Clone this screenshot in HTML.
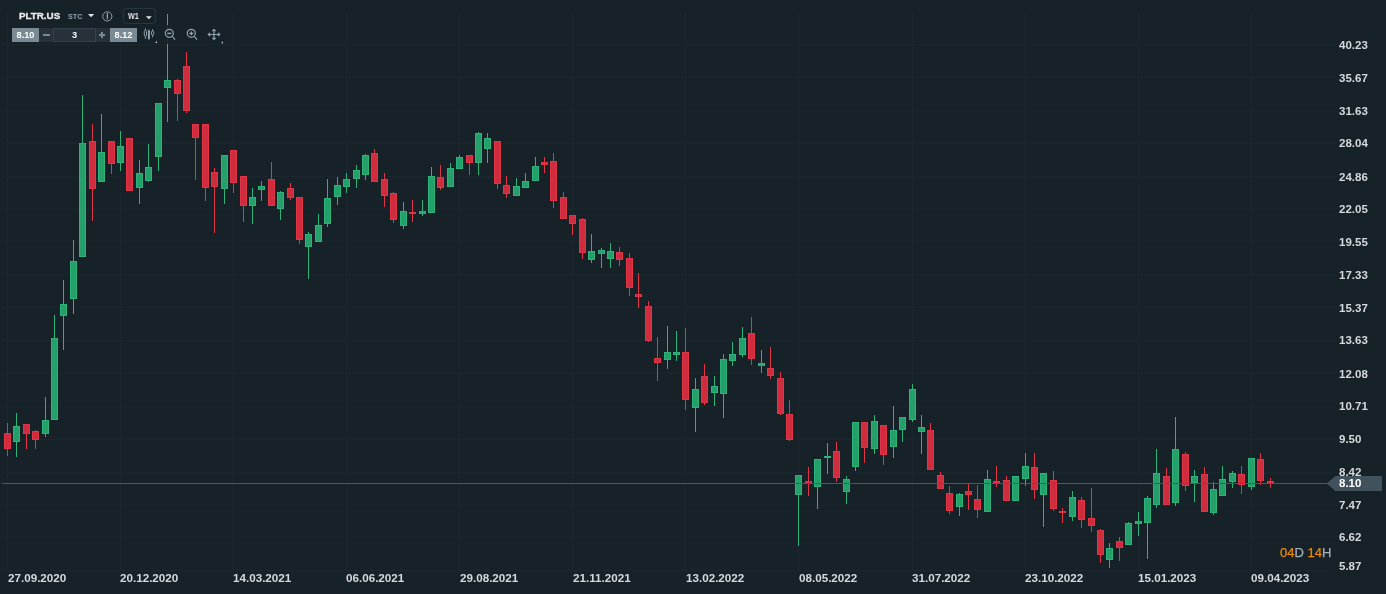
<!DOCTYPE html>
<html><head><meta charset="utf-8"><title>PLTR.US W1</title>
<style>
html,body{margin:0;padding:0;background:#172128;}
body{width:1386px;height:594px;position:relative;overflow:hidden;font-family:"Liberation Sans",sans-serif;}
svg.c{position:absolute;left:0;top:0;}
.pl{position:absolute;left:1339px;height:14px;line-height:14px;font-size:11.5px;font-weight:bold;color:#d6dadd;white-space:nowrap;}
.dl{position:absolute;top:571px;height:14px;line-height:14px;font-size:11.65px;font-weight:bold;color:#d6dadd;white-space:nowrap;}
.t,.pl,.dl{will-change:transform;}
.t{position:absolute;white-space:nowrap;font-weight:bold;}
.box{position:absolute;box-sizing:border-box;}
</style></head><body>
<svg class="c" width="1386" height="594" viewBox="0 0 1386 594" shape-rendering="crispEdges">
<rect x="2" y="44" width="1335" height="1" fill="#1b262e"/>
<rect x="2" y="77" width="1335" height="1" fill="#1b262e"/>
<rect x="2" y="110" width="1335" height="1" fill="#1b262e"/>
<rect x="2" y="143" width="1335" height="1" fill="#1b262e"/>
<rect x="2" y="176" width="1335" height="1" fill="#1b262e"/>
<rect x="2" y="209" width="1335" height="1" fill="#1b262e"/>
<rect x="2" y="241" width="1335" height="1" fill="#1b262e"/>
<rect x="2" y="274" width="1335" height="1" fill="#1b262e"/>
<rect x="2" y="307" width="1335" height="1" fill="#1b262e"/>
<rect x="2" y="340" width="1335" height="1" fill="#1b262e"/>
<rect x="2" y="373" width="1335" height="1" fill="#1b262e"/>
<rect x="2" y="406" width="1335" height="1" fill="#1b262e"/>
<rect x="2" y="439" width="1335" height="1" fill="#1b262e"/>
<rect x="2" y="472" width="1335" height="1" fill="#1b262e"/>
<rect x="2" y="505" width="1335" height="1" fill="#1b262e"/>
<rect x="2" y="537" width="1335" height="1" fill="#1b262e"/>
<rect x="2" y="570" width="1330" height="1" fill="#1b262e"/>
<rect x="7" y="12" width="1" height="559" fill="#1b262e"/>
<rect x="120" y="12" width="1" height="559" fill="#1b262e"/>
<rect x="233" y="12" width="1" height="559" fill="#1b262e"/>
<rect x="346" y="12" width="1" height="559" fill="#1b262e"/>
<rect x="459" y="12" width="1" height="559" fill="#1b262e"/>
<rect x="572" y="12" width="1" height="559" fill="#1b262e"/>
<rect x="685" y="12" width="1" height="559" fill="#1b262e"/>
<rect x="798" y="12" width="1" height="559" fill="#1b262e"/>
<rect x="912" y="12" width="1" height="559" fill="#1b262e"/>
<rect x="1025" y="12" width="1" height="559" fill="#1b262e"/>
<rect x="1138" y="12" width="1" height="559" fill="#1b262e"/>
<rect x="1251" y="12" width="1" height="559" fill="#1b262e"/>
<rect x="7" y="423" width="1" height="33" fill="#e03546"/>
<rect x="4" y="433" width="7" height="16" fill="#e03546"/>
<rect x="5" y="434" width="5" height="14" fill="#cf2d3d"/>
<rect x="16" y="413" width="1" height="44" fill="#2bb379"/>
<rect x="13" y="426" width="7" height="16" fill="#2bb379"/>
<rect x="14" y="427" width="5" height="14" fill="#26a06b"/>
<rect x="26" y="424" width="1" height="25" fill="#e03546"/>
<rect x="23" y="424" width="7" height="10" fill="#e03546"/>
<rect x="24" y="425" width="5" height="8" fill="#cf2d3d"/>
<rect x="35" y="430" width="1" height="19" fill="#e03546"/>
<rect x="32" y="431" width="7" height="9" fill="#e03546"/>
<rect x="33" y="432" width="5" height="7" fill="#cf2d3d"/>
<rect x="45" y="397" width="1" height="40" fill="#2bb379"/>
<rect x="42" y="420" width="7" height="14" fill="#2bb379"/>
<rect x="43" y="421" width="5" height="12" fill="#26a06b"/>
<rect x="54" y="315" width="1" height="105" fill="#2bb379"/>
<rect x="51" y="338" width="7" height="82" fill="#2bb379"/>
<rect x="52" y="339" width="5" height="80" fill="#26a06b"/>
<rect x="63" y="280" width="1" height="70" fill="#2bb379"/>
<rect x="60" y="304" width="7" height="12" fill="#2bb379"/>
<rect x="61" y="305" width="5" height="10" fill="#26a06b"/>
<rect x="73" y="240" width="1" height="74" fill="#2bb379"/>
<rect x="70" y="261" width="7" height="38" fill="#2bb379"/>
<rect x="71" y="262" width="5" height="36" fill="#26a06b"/>
<rect x="82" y="95" width="1" height="162" fill="#2bb379"/>
<rect x="79" y="143" width="7" height="114" fill="#2bb379"/>
<rect x="80" y="144" width="5" height="112" fill="#26a06b"/>
<rect x="92" y="124" width="1" height="97" fill="#e03546"/>
<rect x="89" y="141" width="7" height="48" fill="#e03546"/>
<rect x="90" y="142" width="5" height="46" fill="#cf2d3d"/>
<rect x="101" y="114" width="1" height="68" fill="#2bb379"/>
<rect x="98" y="152" width="7" height="30" fill="#2bb379"/>
<rect x="99" y="153" width="5" height="28" fill="#26a06b"/>
<rect x="111" y="141" width="1" height="33" fill="#e03546"/>
<rect x="108" y="141" width="7" height="23" fill="#e03546"/>
<rect x="109" y="142" width="5" height="21" fill="#cf2d3d"/>
<rect x="120" y="131" width="1" height="40" fill="#2bb379"/>
<rect x="117" y="146" width="7" height="17" fill="#2bb379"/>
<rect x="118" y="147" width="5" height="15" fill="#26a06b"/>
<rect x="129" y="138" width="1" height="53" fill="#e03546"/>
<rect x="126" y="138" width="7" height="53" fill="#e03546"/>
<rect x="127" y="139" width="5" height="51" fill="#cf2d3d"/>
<rect x="139" y="160" width="1" height="44" fill="#2bb379"/>
<rect x="136" y="173" width="7" height="15" fill="#2bb379"/>
<rect x="137" y="174" width="5" height="13" fill="#26a06b"/>
<rect x="148" y="144" width="1" height="38" fill="#2bb379"/>
<rect x="145" y="167" width="7" height="14" fill="#2bb379"/>
<rect x="146" y="168" width="5" height="12" fill="#26a06b"/>
<rect x="158" y="103" width="1" height="68" fill="#2bb379"/>
<rect x="155" y="103" width="7" height="54" fill="#2bb379"/>
<rect x="156" y="104" width="5" height="52" fill="#26a06b"/>
<rect x="167" y="14" width="1" height="108" fill="#2bb379"/>
<rect x="164" y="80" width="7" height="8" fill="#2bb379"/>
<rect x="165" y="81" width="5" height="6" fill="#26a06b"/>
<rect x="177" y="79" width="1" height="42" fill="#e03546"/>
<rect x="174" y="80" width="7" height="14" fill="#e03546"/>
<rect x="175" y="81" width="5" height="12" fill="#cf2d3d"/>
<rect x="186" y="52" width="1" height="61" fill="#e03546"/>
<rect x="183" y="66" width="7" height="45" fill="#e03546"/>
<rect x="184" y="67" width="5" height="43" fill="#cf2d3d"/>
<rect x="195" y="124" width="1" height="56" fill="#e03546"/>
<rect x="192" y="124" width="7" height="14" fill="#e03546"/>
<rect x="193" y="125" width="5" height="12" fill="#cf2d3d"/>
<rect x="205" y="124" width="1" height="77" fill="#e03546"/>
<rect x="202" y="124" width="7" height="64" fill="#e03546"/>
<rect x="203" y="125" width="5" height="62" fill="#cf2d3d"/>
<rect x="214" y="168" width="1" height="65" fill="#e03546"/>
<rect x="211" y="172" width="7" height="15" fill="#e03546"/>
<rect x="212" y="173" width="5" height="13" fill="#cf2d3d"/>
<rect x="224" y="155" width="1" height="49" fill="#2bb379"/>
<rect x="221" y="155" width="7" height="34" fill="#2bb379"/>
<rect x="222" y="156" width="5" height="32" fill="#26a06b"/>
<rect x="233" y="150" width="1" height="43" fill="#e03546"/>
<rect x="230" y="150" width="7" height="33" fill="#e03546"/>
<rect x="231" y="151" width="5" height="31" fill="#cf2d3d"/>
<rect x="243" y="176" width="1" height="46" fill="#e03546"/>
<rect x="240" y="176" width="7" height="30" fill="#e03546"/>
<rect x="241" y="177" width="5" height="28" fill="#cf2d3d"/>
<rect x="252" y="188" width="1" height="36" fill="#2bb379"/>
<rect x="249" y="197" width="7" height="9" fill="#2bb379"/>
<rect x="250" y="198" width="5" height="7" fill="#26a06b"/>
<rect x="261" y="181" width="1" height="20" fill="#2bb379"/>
<rect x="258" y="186" width="7" height="4" fill="#2bb379"/>
<rect x="259" y="187" width="5" height="2" fill="#26a06b"/>
<rect x="271" y="162" width="1" height="44" fill="#e03546"/>
<rect x="268" y="179" width="7" height="27" fill="#e03546"/>
<rect x="269" y="180" width="5" height="25" fill="#cf2d3d"/>
<rect x="280" y="191" width="1" height="29" fill="#2bb379"/>
<rect x="277" y="192" width="7" height="17" fill="#2bb379"/>
<rect x="278" y="193" width="5" height="15" fill="#26a06b"/>
<rect x="290" y="183" width="1" height="17" fill="#e03546"/>
<rect x="287" y="188" width="7" height="10" fill="#e03546"/>
<rect x="288" y="189" width="5" height="8" fill="#cf2d3d"/>
<rect x="299" y="197" width="1" height="47" fill="#e03546"/>
<rect x="296" y="197" width="7" height="43" fill="#e03546"/>
<rect x="297" y="198" width="5" height="41" fill="#cf2d3d"/>
<rect x="308" y="232" width="1" height="47" fill="#2bb379"/>
<rect x="305" y="234" width="7" height="13" fill="#2bb379"/>
<rect x="306" y="235" width="5" height="11" fill="#26a06b"/>
<rect x="318" y="214" width="1" height="28" fill="#2bb379"/>
<rect x="315" y="225" width="7" height="17" fill="#2bb379"/>
<rect x="316" y="226" width="5" height="15" fill="#26a06b"/>
<rect x="327" y="179" width="1" height="48" fill="#2bb379"/>
<rect x="324" y="198" width="7" height="26" fill="#2bb379"/>
<rect x="325" y="199" width="5" height="24" fill="#26a06b"/>
<rect x="337" y="177" width="1" height="28" fill="#2bb379"/>
<rect x="334" y="185" width="7" height="12" fill="#2bb379"/>
<rect x="335" y="186" width="5" height="10" fill="#26a06b"/>
<rect x="346" y="173" width="1" height="20" fill="#2bb379"/>
<rect x="343" y="179" width="7" height="8" fill="#2bb379"/>
<rect x="344" y="180" width="5" height="6" fill="#26a06b"/>
<rect x="356" y="165" width="1" height="23" fill="#2bb379"/>
<rect x="353" y="170" width="7" height="9" fill="#2bb379"/>
<rect x="354" y="171" width="5" height="7" fill="#26a06b"/>
<rect x="365" y="154" width="1" height="26" fill="#2bb379"/>
<rect x="362" y="155" width="7" height="20" fill="#2bb379"/>
<rect x="363" y="156" width="5" height="18" fill="#26a06b"/>
<rect x="374" y="149" width="1" height="33" fill="#e03546"/>
<rect x="371" y="153" width="7" height="29" fill="#e03546"/>
<rect x="372" y="154" width="5" height="27" fill="#cf2d3d"/>
<rect x="384" y="173" width="1" height="34" fill="#e03546"/>
<rect x="381" y="179" width="7" height="17" fill="#e03546"/>
<rect x="382" y="180" width="5" height="15" fill="#cf2d3d"/>
<rect x="393" y="192" width="1" height="31" fill="#e03546"/>
<rect x="390" y="193" width="7" height="27" fill="#e03546"/>
<rect x="391" y="194" width="5" height="25" fill="#cf2d3d"/>
<rect x="403" y="202" width="1" height="27" fill="#2bb379"/>
<rect x="400" y="211" width="7" height="15" fill="#2bb379"/>
<rect x="401" y="212" width="5" height="13" fill="#26a06b"/>
<rect x="412" y="200" width="1" height="22" fill="#e03546"/>
<rect x="409" y="212" width="7" height="2" fill="#e03546"/>
<rect x="422" y="200" width="1" height="16" fill="#2bb379"/>
<rect x="419" y="211" width="7" height="3" fill="#2bb379"/>
<rect x="420" y="212" width="5" height="1" fill="#26a06b"/>
<rect x="431" y="167" width="1" height="46" fill="#2bb379"/>
<rect x="428" y="176" width="7" height="37" fill="#2bb379"/>
<rect x="429" y="177" width="5" height="35" fill="#26a06b"/>
<rect x="440" y="165" width="1" height="25" fill="#e03546"/>
<rect x="437" y="177" width="7" height="11" fill="#e03546"/>
<rect x="438" y="178" width="5" height="9" fill="#cf2d3d"/>
<rect x="450" y="163" width="1" height="24" fill="#2bb379"/>
<rect x="447" y="168" width="7" height="19" fill="#2bb379"/>
<rect x="448" y="169" width="5" height="17" fill="#26a06b"/>
<rect x="459" y="155" width="1" height="14" fill="#2bb379"/>
<rect x="456" y="157" width="7" height="12" fill="#2bb379"/>
<rect x="457" y="158" width="5" height="10" fill="#26a06b"/>
<rect x="469" y="155" width="1" height="20" fill="#e03546"/>
<rect x="466" y="155" width="7" height="8" fill="#e03546"/>
<rect x="467" y="156" width="5" height="6" fill="#cf2d3d"/>
<rect x="478" y="132" width="1" height="43" fill="#2bb379"/>
<rect x="475" y="133" width="7" height="30" fill="#2bb379"/>
<rect x="476" y="134" width="5" height="28" fill="#26a06b"/>
<rect x="487" y="133" width="1" height="30" fill="#2bb379"/>
<rect x="484" y="138" width="7" height="11" fill="#2bb379"/>
<rect x="485" y="139" width="5" height="9" fill="#26a06b"/>
<rect x="497" y="141" width="1" height="48" fill="#e03546"/>
<rect x="494" y="141" width="7" height="43" fill="#e03546"/>
<rect x="495" y="142" width="5" height="41" fill="#cf2d3d"/>
<rect x="506" y="176" width="1" height="22" fill="#e03546"/>
<rect x="503" y="185" width="7" height="9" fill="#e03546"/>
<rect x="504" y="186" width="5" height="7" fill="#cf2d3d"/>
<rect x="516" y="178" width="1" height="18" fill="#2bb379"/>
<rect x="513" y="186" width="7" height="10" fill="#2bb379"/>
<rect x="514" y="187" width="5" height="8" fill="#26a06b"/>
<rect x="525" y="173" width="1" height="15" fill="#2bb379"/>
<rect x="522" y="181" width="7" height="7" fill="#2bb379"/>
<rect x="523" y="182" width="5" height="5" fill="#26a06b"/>
<rect x="535" y="157" width="1" height="24" fill="#2bb379"/>
<rect x="532" y="166" width="7" height="15" fill="#2bb379"/>
<rect x="533" y="167" width="5" height="13" fill="#26a06b"/>
<rect x="544" y="157" width="1" height="16" fill="#e03546"/>
<rect x="541" y="162" width="7" height="3" fill="#e03546"/>
<rect x="542" y="163" width="5" height="1" fill="#cf2d3d"/>
<rect x="553" y="153" width="1" height="55" fill="#e03546"/>
<rect x="550" y="161" width="7" height="40" fill="#e03546"/>
<rect x="551" y="162" width="5" height="38" fill="#cf2d3d"/>
<rect x="563" y="192" width="1" height="27" fill="#e03546"/>
<rect x="560" y="197" width="7" height="22" fill="#e03546"/>
<rect x="561" y="198" width="5" height="20" fill="#cf2d3d"/>
<rect x="572" y="215" width="1" height="20" fill="#e03546"/>
<rect x="569" y="215" width="7" height="9" fill="#e03546"/>
<rect x="570" y="216" width="5" height="7" fill="#cf2d3d"/>
<rect x="582" y="218" width="1" height="41" fill="#e03546"/>
<rect x="579" y="219" width="7" height="34" fill="#e03546"/>
<rect x="580" y="220" width="5" height="32" fill="#cf2d3d"/>
<rect x="591" y="234" width="1" height="29" fill="#2bb379"/>
<rect x="588" y="251" width="7" height="9" fill="#2bb379"/>
<rect x="589" y="252" width="5" height="7" fill="#26a06b"/>
<rect x="601" y="248" width="1" height="20" fill="#2bb379"/>
<rect x="598" y="250" width="7" height="4" fill="#2bb379"/>
<rect x="599" y="251" width="5" height="2" fill="#26a06b"/>
<rect x="610" y="243" width="1" height="25" fill="#2bb379"/>
<rect x="607" y="251" width="7" height="8" fill="#2bb379"/>
<rect x="608" y="252" width="5" height="6" fill="#26a06b"/>
<rect x="619" y="247" width="1" height="19" fill="#e03546"/>
<rect x="616" y="252" width="7" height="8" fill="#e03546"/>
<rect x="617" y="253" width="5" height="6" fill="#cf2d3d"/>
<rect x="629" y="253" width="1" height="43" fill="#e03546"/>
<rect x="626" y="258" width="7" height="30" fill="#e03546"/>
<rect x="627" y="259" width="5" height="28" fill="#cf2d3d"/>
<rect x="638" y="273" width="1" height="35" fill="#e03546"/>
<rect x="635" y="294" width="7" height="3" fill="#e03546"/>
<rect x="636" y="295" width="5" height="1" fill="#cf2d3d"/>
<rect x="648" y="301" width="1" height="41" fill="#e03546"/>
<rect x="645" y="306" width="7" height="35" fill="#e03546"/>
<rect x="646" y="307" width="5" height="33" fill="#cf2d3d"/>
<rect x="657" y="337" width="1" height="44" fill="#e03546"/>
<rect x="654" y="358" width="7" height="5" fill="#e03546"/>
<rect x="655" y="359" width="5" height="3" fill="#cf2d3d"/>
<rect x="667" y="326" width="1" height="43" fill="#2bb379"/>
<rect x="664" y="352" width="7" height="8" fill="#2bb379"/>
<rect x="665" y="353" width="5" height="6" fill="#26a06b"/>
<rect x="676" y="331" width="1" height="30" fill="#2bb379"/>
<rect x="673" y="352" width="7" height="3" fill="#2bb379"/>
<rect x="674" y="353" width="5" height="1" fill="#26a06b"/>
<rect x="685" y="328" width="1" height="82" fill="#e03546"/>
<rect x="682" y="352" width="7" height="48" fill="#e03546"/>
<rect x="683" y="353" width="5" height="46" fill="#cf2d3d"/>
<rect x="695" y="378" width="1" height="54" fill="#2bb379"/>
<rect x="692" y="389" width="7" height="19" fill="#2bb379"/>
<rect x="693" y="390" width="5" height="17" fill="#26a06b"/>
<rect x="704" y="364" width="1" height="41" fill="#e03546"/>
<rect x="701" y="376" width="7" height="27" fill="#e03546"/>
<rect x="702" y="377" width="5" height="25" fill="#cf2d3d"/>
<rect x="714" y="376" width="1" height="30" fill="#2bb379"/>
<rect x="711" y="386" width="7" height="7" fill="#2bb379"/>
<rect x="712" y="387" width="5" height="5" fill="#26a06b"/>
<rect x="723" y="354" width="1" height="64" fill="#2bb379"/>
<rect x="720" y="359" width="7" height="35" fill="#2bb379"/>
<rect x="721" y="360" width="5" height="33" fill="#26a06b"/>
<rect x="732" y="342" width="1" height="24" fill="#2bb379"/>
<rect x="729" y="354" width="7" height="7" fill="#2bb379"/>
<rect x="730" y="355" width="5" height="5" fill="#26a06b"/>
<rect x="742" y="327" width="1" height="30" fill="#2bb379"/>
<rect x="739" y="338" width="7" height="17" fill="#2bb379"/>
<rect x="740" y="339" width="5" height="15" fill="#26a06b"/>
<rect x="751" y="317" width="1" height="48" fill="#e03546"/>
<rect x="748" y="333" width="7" height="26" fill="#e03546"/>
<rect x="749" y="334" width="5" height="24" fill="#cf2d3d"/>
<rect x="761" y="350" width="1" height="23" fill="#2bb379"/>
<rect x="758" y="363" width="7" height="3" fill="#2bb379"/>
<rect x="759" y="364" width="5" height="1" fill="#26a06b"/>
<rect x="770" y="347" width="1" height="32" fill="#e03546"/>
<rect x="767" y="368" width="7" height="8" fill="#e03546"/>
<rect x="768" y="369" width="5" height="6" fill="#cf2d3d"/>
<rect x="780" y="372" width="1" height="43" fill="#e03546"/>
<rect x="777" y="378" width="7" height="36" fill="#e03546"/>
<rect x="778" y="379" width="5" height="34" fill="#cf2d3d"/>
<rect x="789" y="400" width="1" height="41" fill="#e03546"/>
<rect x="786" y="414" width="7" height="26" fill="#e03546"/>
<rect x="787" y="415" width="5" height="24" fill="#cf2d3d"/>
<rect x="798" y="475" width="1" height="71" fill="#2bb379"/>
<rect x="795" y="475" width="7" height="20" fill="#2bb379"/>
<rect x="796" y="476" width="5" height="18" fill="#26a06b"/>
<rect x="808" y="467" width="1" height="29" fill="#e03546"/>
<rect x="805" y="481" width="7" height="3" fill="#e03546"/>
<rect x="806" y="482" width="5" height="1" fill="#cf2d3d"/>
<rect x="817" y="459" width="1" height="50" fill="#2bb379"/>
<rect x="814" y="459" width="7" height="28" fill="#2bb379"/>
<rect x="815" y="460" width="5" height="26" fill="#26a06b"/>
<rect x="827" y="443" width="1" height="31" fill="#2bb379"/>
<rect x="824" y="456" width="7" height="2" fill="#2bb379"/>
<rect x="836" y="442" width="1" height="40" fill="#e03546"/>
<rect x="833" y="451" width="7" height="27" fill="#e03546"/>
<rect x="834" y="452" width="5" height="25" fill="#cf2d3d"/>
<rect x="846" y="476" width="1" height="28" fill="#2bb379"/>
<rect x="843" y="479" width="7" height="13" fill="#2bb379"/>
<rect x="844" y="480" width="5" height="11" fill="#26a06b"/>
<rect x="855" y="422" width="1" height="49" fill="#2bb379"/>
<rect x="852" y="422" width="7" height="45" fill="#2bb379"/>
<rect x="853" y="423" width="5" height="43" fill="#26a06b"/>
<rect x="864" y="422" width="1" height="41" fill="#e03546"/>
<rect x="861" y="422" width="7" height="26" fill="#e03546"/>
<rect x="862" y="423" width="5" height="24" fill="#cf2d3d"/>
<rect x="874" y="415" width="1" height="39" fill="#2bb379"/>
<rect x="871" y="421" width="7" height="28" fill="#2bb379"/>
<rect x="872" y="422" width="5" height="26" fill="#26a06b"/>
<rect x="883" y="425" width="1" height="40" fill="#e03546"/>
<rect x="880" y="425" width="7" height="30" fill="#e03546"/>
<rect x="881" y="426" width="5" height="28" fill="#cf2d3d"/>
<rect x="893" y="406" width="1" height="52" fill="#2bb379"/>
<rect x="890" y="430" width="7" height="17" fill="#2bb379"/>
<rect x="891" y="431" width="5" height="15" fill="#26a06b"/>
<rect x="902" y="417" width="1" height="25" fill="#2bb379"/>
<rect x="899" y="417" width="7" height="13" fill="#2bb379"/>
<rect x="900" y="418" width="5" height="11" fill="#26a06b"/>
<rect x="912" y="384" width="1" height="38" fill="#2bb379"/>
<rect x="909" y="389" width="7" height="31" fill="#2bb379"/>
<rect x="910" y="390" width="5" height="29" fill="#26a06b"/>
<rect x="921" y="415" width="1" height="39" fill="#2bb379"/>
<rect x="918" y="427" width="7" height="5" fill="#2bb379"/>
<rect x="919" y="428" width="5" height="3" fill="#26a06b"/>
<rect x="930" y="423" width="1" height="47" fill="#e03546"/>
<rect x="927" y="430" width="7" height="40" fill="#e03546"/>
<rect x="928" y="431" width="5" height="38" fill="#cf2d3d"/>
<rect x="940" y="472" width="1" height="17" fill="#e03546"/>
<rect x="937" y="475" width="7" height="14" fill="#e03546"/>
<rect x="938" y="476" width="5" height="12" fill="#cf2d3d"/>
<rect x="949" y="486" width="1" height="28" fill="#e03546"/>
<rect x="946" y="493" width="7" height="18" fill="#e03546"/>
<rect x="947" y="494" width="5" height="16" fill="#cf2d3d"/>
<rect x="959" y="493" width="1" height="23" fill="#2bb379"/>
<rect x="956" y="494" width="7" height="13" fill="#2bb379"/>
<rect x="957" y="495" width="5" height="11" fill="#26a06b"/>
<rect x="968" y="484" width="1" height="26" fill="#e03546"/>
<rect x="965" y="491" width="7" height="4" fill="#e03546"/>
<rect x="966" y="492" width="5" height="2" fill="#cf2d3d"/>
<rect x="977" y="485" width="1" height="33" fill="#e03546"/>
<rect x="974" y="499" width="7" height="11" fill="#e03546"/>
<rect x="975" y="500" width="5" height="9" fill="#cf2d3d"/>
<rect x="987" y="470" width="1" height="42" fill="#2bb379"/>
<rect x="984" y="479" width="7" height="33" fill="#2bb379"/>
<rect x="985" y="480" width="5" height="31" fill="#26a06b"/>
<rect x="996" y="466" width="1" height="21" fill="#e03546"/>
<rect x="993" y="481" width="7" height="2" fill="#e03546"/>
<rect x="1006" y="476" width="1" height="25" fill="#e03546"/>
<rect x="1003" y="480" width="7" height="21" fill="#e03546"/>
<rect x="1004" y="481" width="5" height="19" fill="#cf2d3d"/>
<rect x="1015" y="476" width="1" height="25" fill="#2bb379"/>
<rect x="1012" y="476" width="7" height="25" fill="#2bb379"/>
<rect x="1013" y="477" width="5" height="23" fill="#26a06b"/>
<rect x="1025" y="453" width="1" height="33" fill="#2bb379"/>
<rect x="1022" y="466" width="7" height="13" fill="#2bb379"/>
<rect x="1023" y="467" width="5" height="11" fill="#26a06b"/>
<rect x="1034" y="453" width="1" height="46" fill="#e03546"/>
<rect x="1031" y="467" width="7" height="23" fill="#e03546"/>
<rect x="1032" y="468" width="5" height="21" fill="#cf2d3d"/>
<rect x="1043" y="473" width="1" height="54" fill="#2bb379"/>
<rect x="1040" y="473" width="7" height="22" fill="#2bb379"/>
<rect x="1041" y="474" width="5" height="20" fill="#26a06b"/>
<rect x="1053" y="471" width="1" height="40" fill="#e03546"/>
<rect x="1050" y="480" width="7" height="29" fill="#e03546"/>
<rect x="1051" y="481" width="5" height="27" fill="#cf2d3d"/>
<rect x="1062" y="508" width="1" height="15" fill="#e03546"/>
<rect x="1059" y="511" width="7" height="2" fill="#e03546"/>
<rect x="1072" y="491" width="1" height="30" fill="#2bb379"/>
<rect x="1069" y="497" width="7" height="20" fill="#2bb379"/>
<rect x="1070" y="498" width="5" height="18" fill="#26a06b"/>
<rect x="1081" y="497" width="1" height="31" fill="#e03546"/>
<rect x="1078" y="500" width="7" height="20" fill="#e03546"/>
<rect x="1079" y="501" width="5" height="18" fill="#cf2d3d"/>
<rect x="1091" y="488" width="1" height="44" fill="#e03546"/>
<rect x="1088" y="518" width="7" height="8" fill="#e03546"/>
<rect x="1089" y="519" width="5" height="6" fill="#cf2d3d"/>
<rect x="1100" y="529" width="1" height="34" fill="#e03546"/>
<rect x="1097" y="530" width="7" height="25" fill="#e03546"/>
<rect x="1098" y="531" width="5" height="23" fill="#cf2d3d"/>
<rect x="1109" y="543" width="1" height="25" fill="#2bb379"/>
<rect x="1106" y="548" width="7" height="12" fill="#2bb379"/>
<rect x="1107" y="549" width="5" height="10" fill="#26a06b"/>
<rect x="1119" y="537" width="1" height="24" fill="#e03546"/>
<rect x="1116" y="541" width="7" height="7" fill="#e03546"/>
<rect x="1117" y="542" width="5" height="5" fill="#cf2d3d"/>
<rect x="1128" y="522" width="1" height="23" fill="#2bb379"/>
<rect x="1125" y="523" width="7" height="22" fill="#2bb379"/>
<rect x="1126" y="524" width="5" height="20" fill="#26a06b"/>
<rect x="1138" y="512" width="1" height="24" fill="#2bb379"/>
<rect x="1135" y="521" width="7" height="3" fill="#2bb379"/>
<rect x="1136" y="522" width="5" height="1" fill="#26a06b"/>
<rect x="1147" y="496" width="1" height="63" fill="#2bb379"/>
<rect x="1144" y="498" width="7" height="25" fill="#2bb379"/>
<rect x="1145" y="499" width="5" height="23" fill="#26a06b"/>
<rect x="1156" y="449" width="1" height="59" fill="#2bb379"/>
<rect x="1153" y="473" width="7" height="32" fill="#2bb379"/>
<rect x="1154" y="474" width="5" height="30" fill="#26a06b"/>
<rect x="1166" y="468" width="1" height="37" fill="#e03546"/>
<rect x="1163" y="476" width="7" height="29" fill="#e03546"/>
<rect x="1164" y="477" width="5" height="27" fill="#cf2d3d"/>
<rect x="1175" y="417" width="1" height="89" fill="#2bb379"/>
<rect x="1172" y="449" width="7" height="54" fill="#2bb379"/>
<rect x="1173" y="450" width="5" height="52" fill="#26a06b"/>
<rect x="1185" y="452" width="1" height="39" fill="#e03546"/>
<rect x="1182" y="454" width="7" height="32" fill="#e03546"/>
<rect x="1183" y="455" width="5" height="30" fill="#cf2d3d"/>
<rect x="1194" y="470" width="1" height="32" fill="#2bb379"/>
<rect x="1191" y="476" width="7" height="7" fill="#2bb379"/>
<rect x="1192" y="477" width="5" height="5" fill="#26a06b"/>
<rect x="1204" y="467" width="1" height="45" fill="#e03546"/>
<rect x="1201" y="474" width="7" height="38" fill="#e03546"/>
<rect x="1202" y="475" width="5" height="36" fill="#cf2d3d"/>
<rect x="1213" y="482" width="1" height="33" fill="#2bb379"/>
<rect x="1210" y="489" width="7" height="24" fill="#2bb379"/>
<rect x="1211" y="490" width="5" height="22" fill="#26a06b"/>
<rect x="1222" y="466" width="1" height="30" fill="#2bb379"/>
<rect x="1219" y="479" width="7" height="17" fill="#2bb379"/>
<rect x="1220" y="480" width="5" height="15" fill="#26a06b"/>
<rect x="1232" y="471" width="1" height="17" fill="#2bb379"/>
<rect x="1229" y="473" width="7" height="9" fill="#2bb379"/>
<rect x="1230" y="474" width="5" height="7" fill="#26a06b"/>
<rect x="1241" y="466" width="1" height="28" fill="#e03546"/>
<rect x="1238" y="474" width="7" height="11" fill="#e03546"/>
<rect x="1239" y="475" width="5" height="9" fill="#cf2d3d"/>
<rect x="1251" y="458" width="1" height="32" fill="#2bb379"/>
<rect x="1248" y="458" width="7" height="29" fill="#2bb379"/>
<rect x="1249" y="459" width="5" height="27" fill="#26a06b"/>
<rect x="1260" y="453" width="1" height="32" fill="#e03546"/>
<rect x="1257" y="459" width="7" height="22" fill="#e03546"/>
<rect x="1258" y="460" width="5" height="20" fill="#cf2d3d"/>
<rect x="1270" y="478" width="1" height="10" fill="#e03546"/>
<rect x="1267" y="481" width="7" height="2" fill="#e03546"/>
<rect x="8" y="25" width="218" height="19" fill="#172128" fill-opacity="0.88"/>
<rect x="8" y="12" width="150" height="13" fill="#172128" fill-opacity="0.88"/>
<rect x="2" y="483" width="1335" height="1" fill="#485864"/>
<path shape-rendering="geometricPrecision" d="M1326.8 483.5 L1335.4 476 L1382 476 L1382 491 L1335.4 491 Z" fill="#42525d"/>
</svg>
<div class="pl" style="top:38px">40.23</div>
<div class="pl" style="top:71px">35.67</div>
<div class="pl" style="top:104px">31.63</div>
<div class="pl" style="top:136px">28.04</div>
<div class="pl" style="top:170px">24.86</div>
<div class="pl" style="top:202px">22.05</div>
<div class="pl" style="top:235px">19.55</div>
<div class="pl" style="top:268px">17.33</div>
<div class="pl" style="top:301px">15.37</div>
<div class="pl" style="top:333px">13.63</div>
<div class="pl" style="top:367px">12.08</div>
<div class="pl" style="top:399px">10.71</div>
<div class="pl" style="top:432px">9.50</div>
<div class="pl" style="top:465px">8.42</div>
<div class="pl" style="top:498px">7.47</div>
<div class="pl" style="top:530px">6.62</div>
<div class="pl" style="top:559px">5.87</div>
<div class="pl" style="top:476px;color:#fff">8.10</div>
<div class="dl" style="left:7.8px">27.09.2020</div>
<div class="dl" style="left:120.3px">20.12.2020</div>
<div class="dl" style="left:233.4px">14.03.2021</div>
<div class="dl" style="left:346.3px">06.06.2021</div>
<div class="dl" style="left:459.7px">29.08.2021</div>
<div class="dl" style="left:572.8px">21.11.2021</div>
<div class="dl" style="left:685.6px">13.02.2022</div>
<div class="dl" style="left:798.5px">08.05.2022</div>
<div class="dl" style="left:911.75px">31.07.2022</div>
<div class="dl" style="left:1024.75px">23.10.2022</div>
<div class="dl" style="left:1137.7px">15.01.2023</div>
<div class="dl" style="left:1251.2px">09.04.2023</div>
<!-- countdown -->
<div class="t" style="left:1280px;top:545px;height:15px;line-height:15px;font-size:13px;font-weight:normal;-webkit-text-stroke:0.25px;color:#a4b0b8"><span style="color:#f08b00">04</span>D <span style="color:#f08b00">14</span>H</div>
<!-- toolbar row 1 -->
<div class="t" style="left:18.9px;top:9px;height:13px;line-height:13px;font-size:9.8px;color:#ececec;-webkit-text-stroke:0.3px #ececec">PLTR.US</div>
<div class="t" style="left:67.5px;top:11px;height:11px;line-height:11px;font-size:7.2px;color:#8fa3b0">STC</div>
<svg class="c" width="1386" height="50" viewBox="0 0 1386 50">
<path d="M88 14 L94.2 14 L91.1 17.3 Z" fill="#dfe3e6"/>
<circle cx="107.3" cy="16.4" r="4.6" fill="none" stroke="#8fa3b0" stroke-width="1"/>
<rect x="106.8" y="13" width="1" height="6.2" fill="#b9c6cf"/>
<rect x="123.5" y="8.5" width="32" height="15" rx="3" ry="3" fill="none" stroke="#2a363f" stroke-width="1"/>
<path d="M145.8 16.2 L151.8 16.2 L148.8 19.2 Z" fill="#dfe3e6"/>
<!-- candle icon -->
<g stroke="#8fa3b0" fill="none" stroke-width="1">
<path d="M145.4 28.3 V30.3 M145.4 36.3 V38.8"/><rect x="144.3" y="30.3" width="2.2" height="6" rx="1.1"/>
<path d="M148.9 29.6 V39.8"/><rect x="147.9" y="30.4" width="2" height="8.6" fill="#8fa3b0" stroke="none"/>
<path d="M152.6 29.2 V31 M152.6 35 V37.3"/><rect x="151.5" y="31" width="2.2" height="4" rx="1.1"/>
</g>
<path d="M157 41 L157 43 L155 43 Z" fill="#cfd5da"/>
<!-- zoom out -->
<g stroke="#8fa3b0" fill="none" stroke-width="1.2">
<circle cx="169.3" cy="33.3" r="4"/><path d="M172.3 36.4 L175 39.6"/><path d="M167.3 33.4 H171.4" stroke-width="1.5"/>
<circle cx="191.3" cy="33.3" r="4"/><path d="M194.3 36.4 L197 39.6"/><path d="M189.4 33.4 H193.3 M191.35 31.5 V35.3" stroke-width="1.4"/>
</g>
<!-- move -->
<g stroke="#8fa3b0" fill="none" stroke-width="1.2">
<path d="M208.3 34.5 H219.7 M214 29.5 V39.5"/>
<path d="M210 32.8 L208.3 34.5 L210 36.2 M218 32.8 L219.7 34.5 L218 36.2 M212.3 31.2 L214 29.5 L215.7 31.2 M212.3 37.8 L214 39.5 L215.7 37.8"/>
</g>
<path d="M223 41.2 L223 43.2 L221 43.2 Z" fill="#cfd5da"/>
</svg>
<div class="t" style="left:127.6px;top:10px;height:12px;line-height:12px;font-size:9px;color:#e8e8e8;transform:scaleX(0.8);transform-origin:0 0">W1</div>
<!-- toolbar row 2 -->
<div class="box" style="left:12px;top:28px;width:27px;height:14px;background:#7b8b96"></div>
<div class="box" style="left:39px;top:28px;width:71px;height:14px;background:#27313a"></div>
<div class="box" style="left:53px;top:28px;width:43px;height:14px;border:1px solid #33414b;background:#27313a"></div>
<div class="box" style="left:110px;top:28px;width:27px;height:14px;background:#7b8b96"></div>
<div class="t" style="left:12px;width:27px;text-align:center;top:28px;height:14px;line-height:14px;font-size:9.2px;color:#fff">8.10</div>
<div class="t" style="left:110px;width:27px;text-align:center;top:28px;height:14px;line-height:14px;font-size:9.2px;color:#fff">8.12</div>
<div class="t" style="left:53px;width:43px;text-align:center;top:28px;height:14px;line-height:14px;font-size:9.2px;color:#fff">3</div>
<div class="box" style="left:43px;top:34px;width:7px;height:1.5px;background:#7b8b96"></div>
<div class="box" style="left:99px;top:34.2px;width:6px;height:1.4px;background:#7b8b96"></div>
<div class="box" style="left:101.3px;top:31.9px;width:1.4px;height:6px;background:#7b8b96"></div>
</body></html>
